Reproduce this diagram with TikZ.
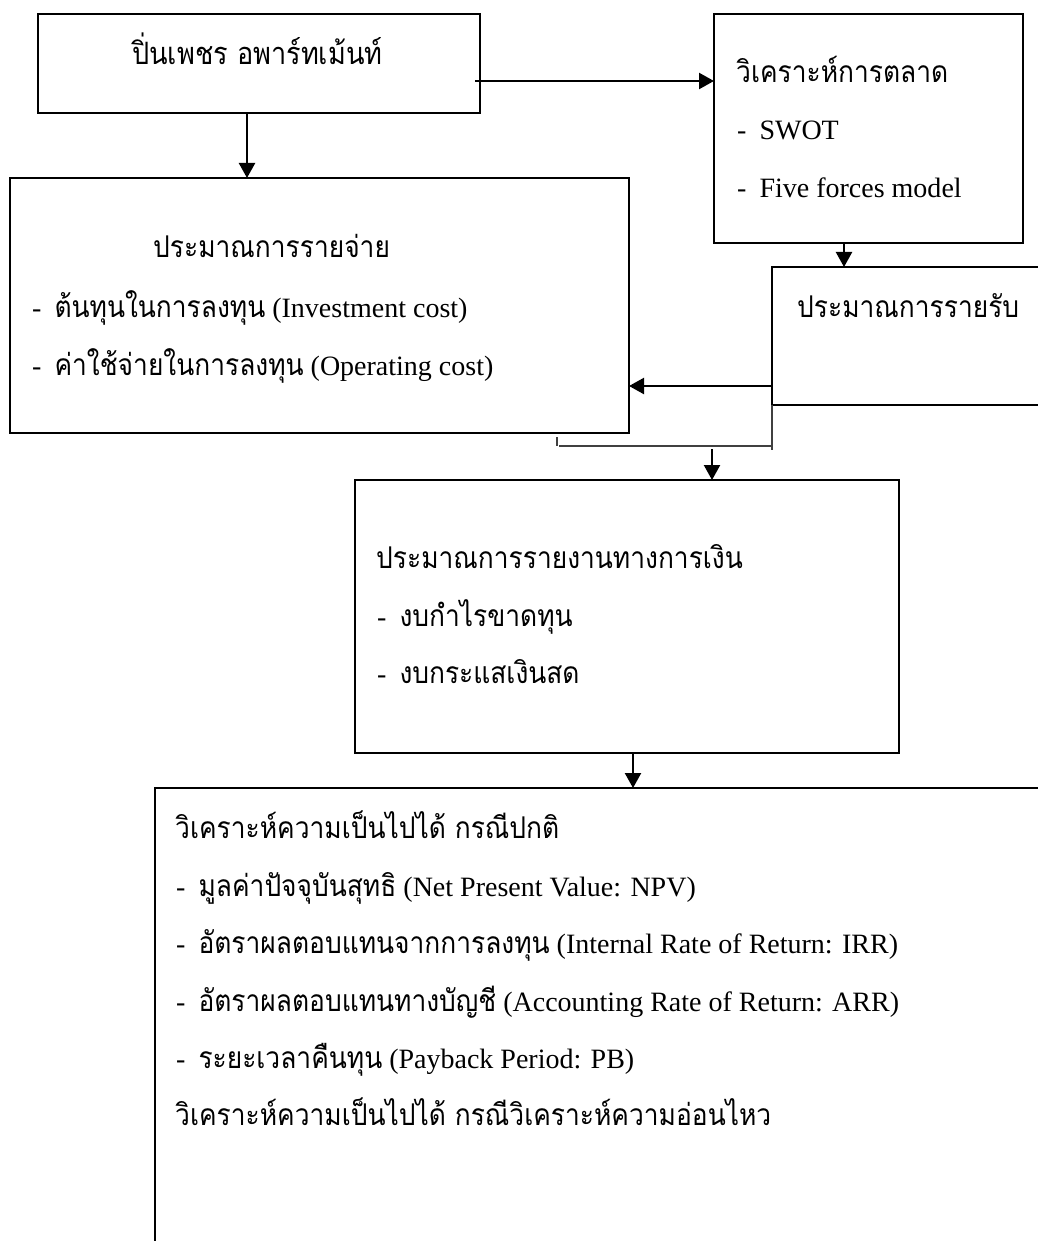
\documentclass[tikz,border=0pt]{standalone}
\usepackage{fontspec}
\setmainfont{Liberation Serif}
\newfontfamily\thai[Script=Thai,Scale=1.07,FakeStretch=0.88]{Loma}
\newfontfamily\thaibig[Script=Thai,Scale=1.1,FakeStretch=0.88]{Loma}
\usetikzlibrary{arrows.meta}
\begin{document}
\begin{tikzpicture}[x=1pt,y=-1pt,
  box/.style={draw, line width=2.8pt, anchor=north west, inner sep=0pt, outer sep=0pt},
  arr/.style={line width=2.3pt, -{Triangle[length=15pt,width=16pt]}},
  thinline/.style={line width=1.4pt, draw=black!75},
  txt/.style={anchor=base west, inner sep=0pt, font=\fontsize{28}{32}\selectfont}]
\useasboundingbox (0,0) rectangle (1037,1241);
\fill[white] (0,0) rectangle (1037,1241);
% boxes
\node[box, minimum width=442pt, minimum height=99pt] (A) at (38,14) {};
\node[box, minimum width=309pt, minimum height=229pt] (C) at (714,14) {};
\node[box, minimum width=619pt, minimum height=255pt] (B) at (10,178) {};
\node[box, minimum width=300pt, minimum height=138pt] (D) at (772,267) {};
\node[box, minimum width=544pt, minimum height=273pt] (E) at (355,480) {};
\node[box, minimum width=920pt, minimum height=480pt] (F) at (155,788) {};
% connectors
\coordinate (ab) at ([xshift=209pt]A.south west);
\draw[arr] (ab) -- (ab |- B.north);
\coordinate (ac) at ([xshift=-5pt,yshift=-67pt]A.north east);
\draw[arr] (ac) -- (ac -| C.west);
\coordinate (cd) at ([xshift=130pt]C.south west);
\draw[arr] (cd) -- (cd |- D.north);
\coordinate (db) at ([yshift=-119pt]D.north west);
\draw[arr] (db) -- (db -| B.east);
\coordinate (dj) at ([yshift=-45pt]D.south west);
\coordinate (hj) at ([yshift=-41pt]D.south west);
\coordinate (hk) at ([xshift=-213pt]hj);
\coordinate (tk) at ([xshift=-2pt,yshift=9pt]hk);
\draw[thinline] (D.south west) -- (dj);
\draw[thinline] (hj) -- (hk);
\draw[thinline] (tk) -- ++(0,9);
\coordinate (de) at ([xshift=-60pt,yshift=-44pt]D.south west);
\draw[arr] (de) -- (de |- E.north);
\coordinate (ef) at ([xshift=278pt]E.south west);
\draw[arr] (ef) -- (ef |- F.north);
% texts
\node[txt] (tA) at (132,65) {\thaibig ปิ่นเพชร อพาร์ทเม้นท์};
\node[txt] (tC1) at (736,83) {\thai วิเคราะห์การตลาด};
\node[txt] (tC2) at (737,140) {-\hspace{13pt}SWOT};
\node[txt] (tC3) at (737,198) {-\hspace{13pt}Five forces model};
\node[txt] (tB1) at (153,258) {\thai ประมาณการรายจ่าย};
\node[txt] (tB2) at (32,317) {-\hspace{13pt}{\thai ต้นทุนในการลงทุน} (Investment cost)};
\node[txt] (tB3) at (32,375) {-\hspace{13pt}{\thai ค่าใช้จ่ายในการลงทุน} (Operating cost)};
\node[txt] (tD) at (797,317) {\thai ประมาณการรายรับ};
\node[txt] (tE1) at (376,568) {\thai ประมาณการรายงานทางการเงิน};
\node[txt] (tE2) at (377,626) {-\hspace{13pt}{\thai งบกำไรขาดทุน}};
\node[txt] (tE3) at (377,683) {-\hspace{13pt}{\thai งบกระแสเงินสด}};
\node[txt] (tF1) at (175,838) {\thai วิเคราะห์ความเป็นไปได้ กรณีปกติ};
\node[txt] (tF2) at (176,896) {-\hspace{13pt}{\thai มูลค่าปัจจุบันสุทธิ} (Net Present Value: NPV)};
\node[txt] (tF3) at (176,953) {-\hspace{13pt}{\thai อัตราผลตอบแทนจากการลงทุน} (Internal Rate of Return: IRR)};
\node[txt] (tF4) at (176,1011) {-\hspace{13pt}{\thai อัตราผลตอบแทนทางบัญชี} (Accounting Rate of Return: ARR)};
\node[txt] (tF5) at (176,1068) {-\hspace{13pt}{\thai ระยะเวลาคืนทุน} (Payback Period: PB)};
\node[txt] (tF6) at (175,1125) {\thai วิเคราะห์ความเป็นไปได้ กรณีวิเคราะห์ความอ่อนไหว};
\end{tikzpicture}
\end{document}
